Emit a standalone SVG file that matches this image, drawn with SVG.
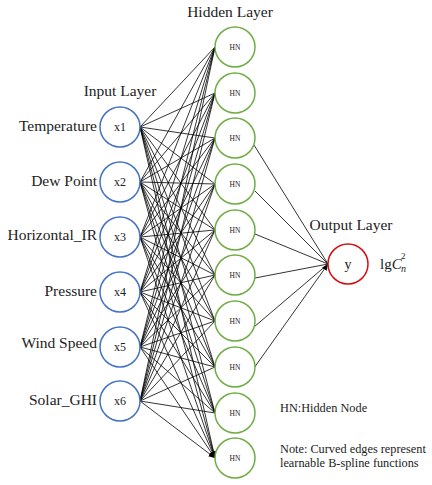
<svg xmlns="http://www.w3.org/2000/svg" width="432" height="485" viewBox="0 0 432 485">
<style>
text{font-family:"Liberation Serif","Times New Roman",serif;fill:#222}
.lbl{font-size:15.5px}
.ttl{font-size:15.5px}
.in{fill:#fff;stroke:#4472C4;stroke-width:1.5}
.hid{fill:#fff;stroke:#70AD47;stroke-width:1.5}
.out{fill:#fff;stroke:#D01010;stroke-width:1.5}
.e{stroke:#000;stroke-width:0.8;fill:none;marker-end:url(#ah)}
.xs{font-size:12px;text-anchor:middle}
.hs{font-size:7.5px;text-anchor:middle}
.note{font-size:12.3px}
</style>
<defs>
<marker id="ah" markerUnits="userSpaceOnUse" markerWidth="7" markerHeight="6" refX="6.5" refY="2.75" orient="auto">
<path d="M0,0 L6.5,2.75 L0,5.5 z" fill="#000"/>
</marker>
</defs>
<g id="connectors">
<path class="e" d="M140,127 L215,47 M140,127 L215,93 M140,127 L215,138 M140,127 L215,184 M140,127 L215,230 M140,127 L215,275 M140,127 L215,321 M140,127 L215,367 M140,127 L215,413 M140,127 L215,458"/>
<path class="e" d="M140,182 L215,47 M140,182 L215,93 M140,182 L215,138 M140,182 L215,184 M140,182 L215,230 M140,182 L215,275 M140,182 L215,321 M140,182 L215,367 M140,182 L215,413 M140,182 L215,458"/>
<path class="e" d="M140,237 L215,47 M140,237 L215,93 M140,237 L215,138 M140,237 L215,184 M140,237 L215,230 M140,237 L215,275 M140,237 L215,321 M140,237 L215,367 M140,237 L215,413 M140,237 L215,458"/>
<path class="e" d="M140,292 L215,47 M140,292 L215,93 M140,292 L215,138 M140,292 L215,184 M140,292 L215,230 M140,292 L215,275 M140,292 L215,321 M140,292 L215,367 M140,292 L215,413 M140,292 L215,458"/>
<path class="e" d="M140,347 L215,47 M140,347 L215,93 M140,347 L215,138 M140,347 L215,184 M140,347 L215,230 M140,347 L215,275 M140,347 L215,321 M140,347 L215,367 M140,347 L215,413 M140,347 L215,458"/>
<path class="e" d="M140,401 L215,47 M140,401 L215,93 M140,401 L215,138 M140,401 L215,184 M140,401 L215,230 M140,401 L215,275 M140,401 L215,321 M140,401 L215,367 M140,401 L215,413 M140,401 L215,458"/>
<path class="e" d="M254,145 L328,264 M255,191 L328,264 M255,234 L328,264 M255,278 L328,264 M254,327 L328,264 M254,368 L328,264"/>
</g>
<g id="title-hidden"><text class="ttl" x="230" y="17" text-anchor="middle">Hidden Layer</text></g>
<g id="title-input"><text class="ttl" x="120" y="96" text-anchor="middle">Input Layer</text></g>
<g id="title-output"><text class="ttl" x="351" y="230" text-anchor="middle">Output Layer</text></g>
<g id="x1"><circle class="in" cx="120" cy="127" r="20"/><text class="xs" x="120" y="131">x1</text><text class="lbl" x="97" y="131" text-anchor="end">Temperature</text></g>
<g id="x2"><circle class="in" cx="120" cy="182" r="20"/><text class="xs" x="120" y="186">x2</text><text class="lbl" x="97" y="186" text-anchor="end">Dew Point</text></g>
<g id="x3"><circle class="in" cx="120" cy="237" r="20"/><text class="xs" x="120" y="241">x3</text><text class="lbl" x="97" y="240" text-anchor="end">Horizontal_IR</text></g>
<g id="x4"><circle class="in" cx="120" cy="292" r="20"/><text class="xs" x="120" y="296">x4</text><text class="lbl" x="97" y="296" text-anchor="end">Pressure</text></g>
<g id="x5"><circle class="in" cx="120" cy="347" r="20"/><text class="xs" x="120" y="351">x5</text><text class="lbl" x="97" y="348" text-anchor="end">Wind Speed</text></g>
<g id="x6"><circle class="in" cx="120" cy="401" r="20"/><text class="xs" x="120" y="405">x6</text><text class="lbl" x="97" y="405" text-anchor="end">Solar_GHI</text></g>
<g id="hn1"><circle class="hid" cx="235" cy="47" r="20"/><text class="hs" x="235" y="50">HN</text></g>
<g id="hn2"><circle class="hid" cx="235" cy="93" r="20"/><text class="hs" x="235" y="96">HN</text></g>
<g id="hn3"><circle class="hid" cx="235" cy="138" r="20"/><text class="hs" x="235" y="141">HN</text></g>
<g id="hn4"><circle class="hid" cx="235" cy="184" r="20"/><text class="hs" x="235" y="187">HN</text></g>
<g id="hn5"><circle class="hid" cx="235" cy="230" r="20"/><text class="hs" x="235" y="233">HN</text></g>
<g id="hn6"><circle class="hid" cx="235" cy="275" r="20"/><text class="hs" x="235" y="278">HN</text></g>
<g id="hn7"><circle class="hid" cx="235" cy="321" r="20"/><text class="hs" x="235" y="324">HN</text></g>
<g id="hn8"><circle class="hid" cx="235" cy="367" r="20"/><text class="hs" x="235" y="370">HN</text></g>
<g id="hn9"><circle class="hid" cx="235" cy="413" r="20"/><text class="hs" x="235" y="416">HN</text></g>
<g id="hn10"><circle class="hid" cx="235" cy="458" r="20"/><text class="hs" x="235" y="461">HN</text></g>
<g id="y"><circle class="out" cx="348" cy="264" r="20"/><text x="348" y="269" font-size="14" text-anchor="middle">y</text>
<text font-size="15" x="380" y="269">lg<tspan font-style="italic">C</tspan></text>
<text font-size="10" font-style="italic" x="401" y="272">n</text>
<text font-size="9" x="401" y="259">2</text></g>
<g id="legend"><text class="note" x="280" y="412">HN:Hidden Node</text>
<text class="note" x="280" y="453">Note: Curved edges represent</text>
<text class="note" x="280" y="467">learnable B-spline functions</text></g>
</svg>
